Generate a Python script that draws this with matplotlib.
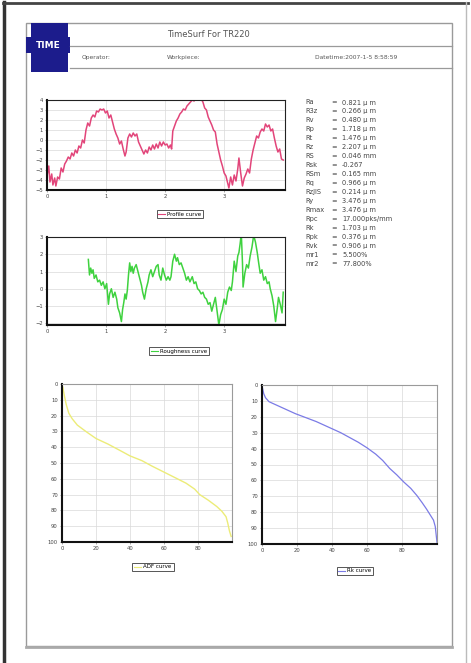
import matplotlib
matplotlib.use("Agg")
import matplotlib.pyplot as plt
from matplotlib.patches import Rectangle
from matplotlib.lines import Line2D

# ---------------------------------------------------------------- data
TITLE = "TimeSurf For TR220"
HEADER_FIELDS = ["Operator:", "Workpiece:", "Datetime:2007-1-5 8:58:59"]

PARAM_NAMES = ["Ra", "R3z", "Rv", "Rp", "Rt", "Rz", "RS", "Rsk", "RSm", "Rq",
               "RzJIS", "Ry", "Rmax", "Rpc", "Rk", "Rpk", "Rvk", "mr1", "mr2"]
PARAM_VALUES = ["0.821 \u03bc m", "0.266 \u03bc m", "0.480 \u03bc m", "1.718 \u03bc m",
                "1.476 \u03bc m", "2.207 \u03bc m", "0.046 mm", "-0.267", "0.165 mm",
                "0.966 \u03bc m", "0.214 \u03bc m", "3.476 \u03bc m", "3.476 \u03bc m",
                "17.000pks/mm", "1.703 \u03bc m", "0.376 \u03bc m", "0.906 \u03bc m",
                "5.500%", "77.800%"]

# profile curve (mm, um)
profile_x = [0.00, 0.03, 0.05, 0.08, 0.10, 0.13, 0.15, 0.18, 0.21, 0.24, 0.27, 0.30,
             0.33, 0.36, 0.39, 0.42, 0.45, 0.48, 0.51, 0.54, 0.57, 0.60, 0.63, 0.66,
             0.69, 0.72, 0.75, 0.78, 0.81, 0.84, 0.87, 0.90, 0.93, 0.96, 0.99, 1.02,
             1.05, 1.08, 1.11, 1.14, 1.17, 1.20, 1.23, 1.26, 1.29, 1.32, 1.34, 1.37,
             1.40, 1.43, 1.46, 1.49, 1.52, 1.55, 1.58, 1.61, 1.64, 1.67, 1.70, 1.73,
             1.76, 1.79, 1.82, 1.85, 1.88, 1.91, 1.94, 1.97, 2.00, 2.03, 2.06, 2.09,
             2.11, 2.13, 2.16, 2.19, 2.22, 2.25, 2.28, 2.31, 2.34, 2.37, 2.40, 2.43,
             2.46, 2.49, 2.52, 2.55, 2.58, 2.61, 2.64, 2.67, 2.70, 2.73, 2.76, 2.79,
             2.82, 2.85, 2.88, 2.91, 2.94, 2.97, 3.00, 3.03, 3.06, 3.08, 3.11, 3.14,
             3.17, 3.20, 3.23, 3.25, 3.28, 3.31, 3.34, 3.37, 3.40, 3.43, 3.46, 3.49,
             3.52, 3.55, 3.58, 3.61, 3.64, 3.67, 3.70, 3.73, 3.76, 3.79, 3.82, 3.85,
             3.88, 3.91, 3.94, 3.97, 4.00]
profile_y = [-3.6, -2.6, -4.2, -3.4, -4.5, -3.8, -4.6, -3.7, -3.9, -2.8, -3.2, -2.4,
             -2.1, -1.7, -1.9, -1.3, -1.6, -1.0, -1.3, -0.6, -0.8, 0.0, -0.3, 1.0,
             1.7, 1.4, 2.2, 2.5, 2.3, 2.9, 2.8, 3.1, 3.0, 3.1, 2.7, 2.9,
             2.2, 2.5, 1.8, 1.1, 0.6, 0.2, -0.4, -0.1, -0.9, -1.6, -1.2, 0.2,
             0.6, 0.3, 0.7, 0.4, 0.6, -0.2, -0.6, -1.0, -1.4, -1.0, -1.3, -0.7,
             -1.0, -0.5, -0.9, -0.4, -0.8, -0.2, -0.6, -0.2, -0.5, -0.4, -0.8, -0.5,
             -0.9, 0.9, 1.4, 1.9, 2.2, 2.6, 2.8, 3.1, 3.0, 3.4, 3.6, 3.8,
             4.0, 3.9, 4.1, 4.2, 4.0, 4.1, 3.8, 3.2, 3.0, 2.3, 1.9, 1.5,
             1.0, 0.8, -0.4, -1.2, -2.0, -2.6, -3.3, -3.6, -4.3, -4.8, -3.7, -4.5,
             -3.5, -4.1, -2.9, -1.8, -3.3, -4.6, -3.8, -3.4, -2.9, -3.3, -1.9, -1.0,
             -0.3, 0.4, 0.2, 0.8, 1.1, 0.9, 1.6, 1.3, 1.5, 0.9, 1.1, 0.2,
             -0.6, -1.2, -0.9, -1.9, -2.0]

# roughness curve (mm, um)
rough_x = [0.70, 0.72, 0.74, 0.76, 0.78, 0.80, 0.83, 0.86, 0.89, 0.92, 0.95, 0.98,
           1.01, 1.04, 1.06, 1.09, 1.12, 1.15, 1.18, 1.20, 1.23, 1.26, 1.28, 1.30,
           1.32, 1.34, 1.36, 1.38, 1.40, 1.42, 1.44, 1.46, 1.48, 1.51, 1.54, 1.57,
           1.60, 1.62, 1.65, 1.68, 1.71, 1.73, 1.76, 1.79, 1.82, 1.85, 1.88, 1.90,
           1.93, 1.96, 1.99, 2.02, 2.05, 2.08, 2.10, 2.13, 2.16, 2.19, 2.21, 2.24,
           2.27, 2.30, 2.33, 2.36, 2.39, 2.42, 2.46, 2.49, 2.52, 2.55, 2.58, 2.61,
           2.64, 2.67, 2.70, 2.73, 2.76, 2.79, 2.82, 2.85, 2.88, 2.91, 2.94, 2.97,
           3.00, 3.03, 3.06, 3.09, 3.12, 3.14, 3.17, 3.20, 3.23, 3.25, 3.27, 3.29,
           3.31, 3.32, 3.35, 3.38, 3.41, 3.44, 3.47, 3.50, 3.53, 3.56, 3.58, 3.61,
           3.64, 3.67, 3.70, 3.73, 3.76, 3.78, 3.81, 3.84, 3.87, 3.90, 3.92, 3.95,
           3.98, 4.00]
rough_y = [1.7, 0.8, 1.2, 0.9, 1.1, 0.6, 0.8, 0.4, 0.5, 0.2, 0.4, 0.0,
           0.3, -0.9, -0.3, 0.0, -0.5, -0.2, -0.6, -1.1, -1.4, -1.9, -1.2, -0.8,
           -0.3, -0.6, -0.1, 0.8, 1.5, 1.0, 1.3, 0.9, 1.2, 1.4, 1.0, 0.6,
           0.2, -0.2, -0.6, 0.0, 0.4, 0.8, 1.1, 0.7, 1.0, 1.3, 1.4, 0.8,
           0.5, 1.2, 0.8, 0.5, 0.7, 0.5, 0.7, 1.6, 2.0, 1.6, 1.8, 1.4,
           1.5, 1.2, 0.9, 0.5, 0.7, 0.4, 0.7, 0.3, 0.4, 0.0, -0.1, -0.3,
           -0.2, -0.5, -0.6, -0.9, -0.8, -1.3, -0.9, -0.5, -1.3, -2.1, -1.5, -1.2,
           -0.6, -0.9, -0.2, 0.1, -0.1, 0.4, 1.6, 1.0, 1.9, 2.1, 2.6, 3.2,
           1.5, 0.1, 0.9, 1.4, 1.2, 1.9, 2.4, 3.1, 2.7, 2.1, 1.6, 0.9,
           1.1, 0.5, 0.7, 0.3, 0.4, 0.0, -0.4, -1.0, -1.9, -1.1, -0.5, -0.9,
           -1.4, -0.2]

# amplitude distribution curve (%, %)
adf_x = [0.5, 0.8, 1.5, 2.5, 4, 6, 9, 14, 20, 27, 34, 40, 47, 53, 59.5, 66, 73,
         78, 81, 86, 91, 94, 96.5, 97.5, 98.5, 99.5]
adf_y = [2, 4, 8, 13, 18.5, 22, 26, 30, 34.5, 38, 42, 45.5, 48.5, 52, 55.5, 59,
         62.8, 66.5, 70, 73.5, 77.5, 80.5, 84, 88, 93, 96.5]

# Rk (bearing) curve (%, %)
rk_x = [0, 0.5, 1, 2, 4, 8, 12, 19, 25, 31, 36, 40, 45, 50, 55, 60, 65, 69, 73,
        77, 81, 85, 88.5, 91.5, 94, 96, 98, 99, 99.5, 100]
rk_y = [0.5, 3, 5.5, 8, 10.5, 12.5, 14.5, 18, 20.5, 23, 25.5, 27.5, 30, 33, 36,
        39.5, 43.5, 47.5, 52.5, 56.5, 61, 65, 69.5, 74, 78, 81.5, 85, 89, 94, 99]

TOP_XTICKS = [0, 1, 2, 3]
PROFILE_YTICKS = [4, 3, 2, 1, 0, -1, -2, -3, -4, -5]
ROUGH_YTICKS = [3, 2, 1, 0, -1, -2]
BOTTOM_XTICKS = [0, 20, 40, 60, 80]
BOTTOM_YTICKS = [0, 10, 20, 30, 40, 50, 60, 70, 80, 90, 100]

W, H = 471, 663
fig = plt.figure(figsize=(W / 100, H / 100), dpi=100)
fig.patch.set_facecolor("white")

# ---------------------------------------------------------------- page decoration
page = fig.add_axes([0, 0, 1, 1], zorder=0)
page.set_xlim(0, W)
page.set_ylim(H, 0)
page.axis("off")

page.plot([4, 4], [2, H], color="#333333", lw=2.5)
page.plot([3, 468], [2.5, 2.5], color="#444444", lw=2)
page.plot([466, 466], [2, H], color="#bbbbbb", lw=1)
page.add_patch(Rectangle((26, 23), 426, 623, fill=False, edgecolor="#9a9a9a", lw=1))
page.plot([26, 452], [646.5, 646.5], color="#aaaaaa", lw=2)
page.plot([70, 452], [46, 46], color="#9a9a9a", lw=0.9)
page.plot([70, 452], [68, 68], color="#9a9a9a", lw=0.9)

# logo
logo_blue = "#1c1c8c"
page.add_patch(Rectangle((31, 23), 37, 49, facecolor=logo_blue, edgecolor="none"))
page.add_patch(Rectangle((26, 37), 44, 16, facecolor=logo_blue, edgecolor="none"))
page.text(48, 45.5, "TIME", color="white", fontsize=6.5, fontweight="bold",
          ha="center", va="center")

page.text(208, 34.5, TITLE, fontsize=6, color="#555555", ha="center", va="center")
for x, label in zip([82, 167, 315], HEADER_FIELDS):
    page.text(x, 57.5, label, fontsize=4.3, color="#555555", ha="left", va="center")

# parameters list
for i, (name, val) in enumerate(zip(PARAM_NAMES, PARAM_VALUES)):
    y = 102.5 + i * 8.95
    page.text(305, y, name, fontsize=4.8, color="#444444", va="center")
    page.text(331, y, "=", fontsize=4.8, color="#444444", va="center")
    page.text(342, y, val, fontsize=4.8, color="#444444", va="center")


# ---------------------------------------------------------------- helpers
def style_axes(ax, light_frame=False):
    ax.grid(True, color="#d9d9d9", lw=0.5)
    ax.set_axisbelow(True)
    for side in ["top", "right"]:
        ax.spines[side].set_color("#9a9a9a" if light_frame else "#222222")
        ax.spines[side].set_linewidth(0.8)
    for side in ["left", "bottom"]:
        ax.spines[side].set_color("#111111")
        ax.spines[side].set_linewidth(1.5)
    ax.tick_params(labelsize=3.8, labelcolor="#444444", length=1.5, width=0.4,
                   pad=1.5, color="#666666")


def add_legend(ax, color, label, cx, cy):
    h = Line2D([], [], color=color, lw=0.8)
    leg = ax.legend([h], [label], loc="center", bbox_to_anchor=(cx / W, 1 - cy / H),
                    bbox_transform=fig.transFigure, fontsize=4, handlelength=1.2,
                    handletextpad=0.4, borderpad=0.35, fancybox=False, framealpha=1)
    leg.get_frame().set_edgecolor("#555555")
    leg.get_frame().set_linewidth(0.7)


def axes_px(x0, y0, x1, y1):
    return fig.add_axes([x0 / W, 1 - y1 / H, (x1 - x0) / W, (y1 - y0) / H], zorder=2)


# ---------------------------------------------------------------- profile
ax1 = axes_px(47, 100, 285, 190)
ax1.plot(profile_x, profile_y, color="#e2457a", lw=1.1)
ax1.set_xlim(0, 4.03)
ax1.set_ylim(-5, 4)
ax1.set_xticks(TOP_XTICKS)
ax1.set_yticks(PROFILE_YTICKS)
style_axes(ax1)
add_legend(ax1, "#e2457a", "Profile curve", 180, 214)

# ---------------------------------------------------------------- roughness
ax2 = axes_px(47, 237, 285, 325)
ax2.plot(rough_x, rough_y, color="#3fd23f", lw=1.1)
ax2.set_xlim(0, 4.03)
ax2.set_ylim(-2.1, 3)
ax2.set_xticks(TOP_XTICKS)
ax2.set_yticks(ROUGH_YTICKS)
style_axes(ax2)
add_legend(ax2, "#3fd23f", "Roughness curve", 179, 351)

# ---------------------------------------------------------------- ADF curve
ax3 = axes_px(62, 384, 232, 542)
ax3.plot(adf_x, adf_y, color="#ecec78", lw=1.0)
ax3.set_xlim(0, 100)
ax3.set_ylim(100, 0)
ax3.set_xticks(BOTTOM_XTICKS)
ax3.set_yticks(BOTTOM_YTICKS)
style_axes(ax3, light_frame=True)
add_legend(ax3, "#ecec78", "ADF curve", 153, 567)

# ---------------------------------------------------------------- Rk curve
ax4 = axes_px(262, 385, 437, 544)
ax4.plot(rk_x, rk_y, color="#7b7be6", lw=0.9)
ax4.set_xlim(0, 100)
ax4.set_ylim(100, 0)
ax4.set_xticks(BOTTOM_XTICKS)
ax4.set_yticks(BOTTOM_YTICKS)
style_axes(ax4, light_frame=True)
add_legend(ax4, "#7b7be6", "Rk curve", 355, 571)

fig.savefig("out.png", dpi=100)
